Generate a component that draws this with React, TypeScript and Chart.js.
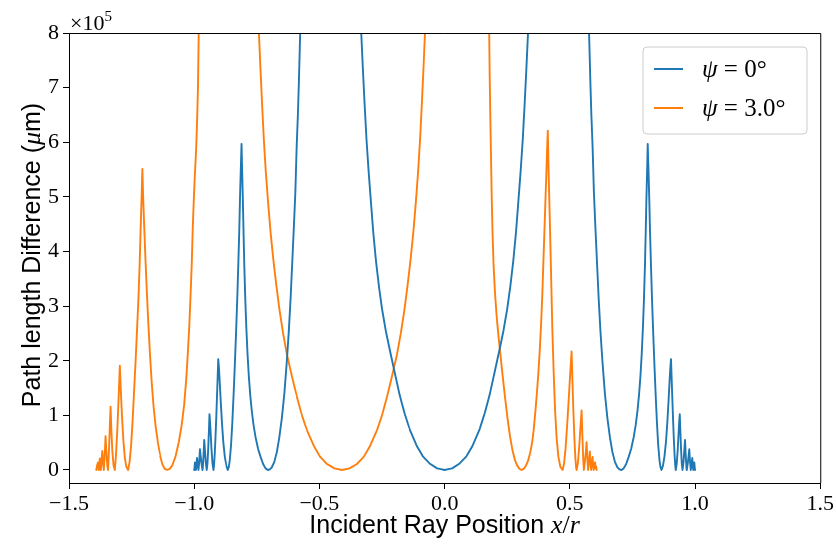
import { useEffect, useRef } from 'react';
import { Chart, registerables } from 'chart.js';

Chart.register(...registerables);

const xTickValues = [-1.5, -1.0, -0.5, 0.0, 0.5, 1.0, 1.5];
const yTickValues = [0, 1, 2, 3, 4, 5, 6, 7, 8];
const seriesLabels = ['\u03c8', '\u03c8'];
const seriesValueText = [' = 0\u00b0', ' = 3.0\u00b0'];

type Pt = [number, number | null];

// psi = 0 deg, [x/r, path difference (x1e5 um)]; null marks where the curve leaves the plot
const blueCurve: Pt[] = [
  [-1.0, 0], [-0.999, 0.03], [-0.997, 0.14], [-0.995, 0.1], [-0.993, 0], [-0.991, 0.08], [-0.989, 0.22],
  [-0.986, 0.12], [-0.983, 0], [-0.98, 0.15], [-0.977, 0.38], [-0.974, 0.25], [-0.971, 0.12], [-0.967, 0],
  [-0.966, 0.03], [-0.963, 0.25], [-0.96, 0.55], [-0.957, 0.35], [-0.954, 0.15], [-0.95, 0], [-0.947, 0.12],
  [-0.944, 0.4], [-0.941, 0.75], [-0.939, 1.02], [-0.937, 0.9], [-0.934, 0.65], [-0.931, 0.38], [-0.927, 0.12],
  [-0.923, 0], [-0.921, 0.08], [-0.918, 0.3], [-0.915, 0.6], [-0.912, 0.95], [-0.909, 1.35], [-0.906, 1.75],
  [-0.904, 2.03], [-0.901, 1.85], [-0.898, 1.6], [-0.894, 1.25], [-0.889, 0.85], [-0.884, 0.52], [-0.878, 0.25],
  [-0.872, 0.08], [-0.866, 0], [-0.862, 0.05], [-0.858, 0.18], [-0.853, 0.45], [-0.848, 0.85], [-0.843, 1.35],
  [-0.838, 1.9], [-0.833, 2.5], [-0.828, 3.15], [-0.824, 3.75], [-0.82, 4.4], [-0.817, 5.0], [-0.814, 5.5],
  [-0.811, 5.97], [-0.809, 5.55], [-0.806, 5.0], [-0.803, 4.35], [-0.8, 3.75], [-0.796, 3.12], [-0.792, 2.62],
  [-0.787, 2.12], [-0.782, 1.72], [-0.776, 1.36], [-0.77, 1.08], [-0.763, 0.82], [-0.755, 0.6], [-0.745, 0.39],
  [-0.735, 0.24], [-0.725, 0.11], [-0.715, 0.03], [-0.706, 0], [-0.698, 0.01], [-0.69, 0.05], [-0.68, 0.15],
  [-0.67, 0.33], [-0.66, 0.6], [-0.65, 0.95], [-0.64, 1.4], [-0.63, 2.0], [-0.622, 2.56], [-0.615, 3.15],
  [-0.608, 3.85], [-0.602, 4.45], [-0.596, 5.1], [-0.591, 5.9], [-0.586, 6.5], [-0.582, 7.1], [-0.578, 7.8],
  [-0.575, 8.3], [-0.572, 8.8],
  [-0.45, null],
  [-0.34, 8.8], [-0.333, 8.0], [-0.326, 7.3], [-0.319, 6.65], [-0.312, 6.05], [-0.304, 5.5], [-0.295, 4.95],
  [-0.285, 4.35], [-0.274, 3.82], [-0.262, 3.35], [-0.25, 2.95], [-0.235, 2.55], [-0.22, 2.22], [-0.2, 1.8],
  [-0.18, 1.38], [-0.16, 1.04], [-0.14, 0.75], [-0.11, 0.43], [-0.087, 0.25], [-0.06, 0.12], [-0.03, 0.03],
  [0, 0],
  [0.03, 0.03], [0.06, 0.12], [0.087, 0.25], [0.11, 0.43], [0.14, 0.75], [0.16, 1.04], [0.18, 1.38],
  [0.2, 1.8], [0.22, 2.22], [0.235, 2.55], [0.25, 2.95], [0.262, 3.35], [0.274, 3.82], [0.285, 4.35],
  [0.295, 4.95], [0.304, 5.5], [0.312, 6.05], [0.319, 6.65], [0.326, 7.3], [0.333, 8.0], [0.34, 8.8],
  [0.45, null],
  [0.572, 8.8], [0.575, 8.3], [0.578, 7.8], [0.582, 7.1], [0.586, 6.5], [0.591, 5.9], [0.596, 5.1],
  [0.602, 4.45], [0.608, 3.85], [0.615, 3.15], [0.622, 2.56], [0.63, 2.0], [0.64, 1.4], [0.65, 0.95],
  [0.66, 0.6], [0.67, 0.33], [0.68, 0.15], [0.69, 0.05], [0.698, 0.01], [0.706, 0],
  [0.715, 0.03], [0.725, 0.11], [0.735, 0.24], [0.745, 0.39], [0.755, 0.6], [0.763, 0.82], [0.77, 1.08],
  [0.776, 1.36], [0.782, 1.72], [0.787, 2.12], [0.792, 2.62], [0.796, 3.12], [0.8, 3.75], [0.803, 4.35],
  [0.806, 5.0], [0.809, 5.55], [0.811, 5.97],
  [0.814, 5.5], [0.817, 5.0], [0.82, 4.4], [0.824, 3.75], [0.828, 3.15], [0.833, 2.5], [0.838, 1.9],
  [0.843, 1.35], [0.848, 0.85], [0.853, 0.45], [0.858, 0.18], [0.862, 0.05], [0.866, 0],
  [0.872, 0.08], [0.878, 0.25], [0.884, 0.52], [0.889, 0.85], [0.894, 1.25], [0.898, 1.6], [0.901, 1.85],
  [0.904, 2.03], [0.906, 1.75], [0.909, 1.35], [0.912, 0.95], [0.915, 0.6], [0.918, 0.3], [0.921, 0.08],
  [0.923, 0], [0.927, 0.12], [0.931, 0.38], [0.934, 0.65], [0.937, 0.9], [0.939, 1.02], [0.941, 0.75],
  [0.944, 0.4], [0.947, 0.12], [0.95, 0], [0.954, 0.15], [0.957, 0.35], [0.96, 0.55], [0.963, 0.25],
  [0.966, 0.03], [0.967, 0], [0.971, 0.12], [0.974, 0.25], [0.977, 0.38], [0.98, 0.15], [0.983, 0],
  [0.986, 0.12], [0.989, 0.22], [0.991, 0.08], [0.993, 0], [0.995, 0.1], [0.997, 0.14], [0.999, 0.03],
  [1.0, 0],
];

// psi = 3.0 deg
const orangeCurve: Pt[] = [
  [-1.391, 0], [-1.388, 0.08], [-1.385, 0.14], [-1.383, 0.05], [-1.381, 0], [-1.379, 0.12], [-1.377, 0.21],
  [-1.375, 0.08], [-1.373, 0], [-1.37, 0.18], [-1.367, 0.35], [-1.364, 0.12], [-1.361, 0], [-1.357, 0.3],
  [-1.354, 0.62], [-1.351, 0.35], [-1.347, 0.08], [-1.344, 0], [-1.34, 0.4], [-1.337, 0.8], [-1.334, 1.16],
  [-1.331, 0.75], [-1.327, 0.35], [-1.322, 0.08], [-1.317, 0], [-1.312, 0.3], [-1.307, 0.75], [-1.302, 1.3],
  [-1.297, 1.91], [-1.293, 1.45], [-1.288, 0.95], [-1.283, 0.55], [-1.277, 0.22], [-1.271, 0.06], [-1.264, 0],
  [-1.258, 0.15], [-1.252, 0.45], [-1.246, 0.9], [-1.24, 1.45], [-1.234, 2.0], [-1.228, 2.6], [-1.223, 3.1],
  [-1.218, 3.75], [-1.214, 4.4], [-1.21, 5.0], [-1.207, 5.51], [-1.204, 5.0], [-1.2, 4.5], [-1.195, 3.9],
  [-1.19, 3.35], [-1.184, 2.75], [-1.177, 2.15], [-1.17, 1.62], [-1.162, 1.15], [-1.154, 0.8], [-1.145, 0.5],
  [-1.136, 0.26], [-1.127, 0.1], [-1.117, 0.02], [-1.108, 0], [-1.098, 0.02], [-1.088, 0.08], [-1.075, 0.24],
  [-1.062, 0.5], [-1.05, 0.82], [-1.04, 1.2], [-1.032, 1.65], [-1.026, 2.1], [-1.02, 2.6], [-1.015, 3.15],
  [-1.01, 3.75], [-1.006, 4.4], [-1.002, 4.9], [-0.998, 5.35], [-0.993, 5.8], [-0.989, 6.3], [-0.985, 7.0],
  [-0.982, 8.0], [-0.98, 9.0],
  [-0.86, null],
  [-0.747, 8.7], [-0.742, 8.05], [-0.736, 7.4], [-0.729, 6.7], [-0.722, 6.05], [-0.714, 5.45], [-0.705, 4.9],
  [-0.695, 4.35], [-0.684, 3.85], [-0.672, 3.38], [-0.66, 2.95], [-0.645, 2.5], [-0.63, 2.12], [-0.61, 1.72],
  [-0.59, 1.34], [-0.57, 1.0], [-0.55, 0.73], [-0.52, 0.42], [-0.497, 0.24], [-0.47, 0.11], [-0.44, 0.03],
  [-0.41, 0],
  [-0.38, 0.03], [-0.35, 0.11], [-0.323, 0.24], [-0.3, 0.42], [-0.27, 0.73], [-0.25, 1.0], [-0.23, 1.34],
  [-0.21, 1.72], [-0.19, 2.12], [-0.175, 2.5], [-0.16, 2.95], [-0.148, 3.38], [-0.136, 3.85], [-0.125, 4.35],
  [-0.115, 4.9], [-0.106, 5.45], [-0.098, 6.05], [-0.091, 6.7], [-0.084, 7.4], [-0.078, 8.05], [-0.073, 8.7],
  [0.05, null],
  [0.176, 9.0], [0.178, 8.0], [0.18, 7.2], [0.182, 6.6], [0.185, 5.8], [0.188, 5.0], [0.191, 4.4],
  [0.195, 3.8], [0.201, 3.25], [0.208, 2.8], [0.215, 2.45], [0.222, 2.15], [0.231, 1.75], [0.241, 1.34],
  [0.251, 0.95], [0.261, 0.62], [0.271, 0.36], [0.281, 0.18], [0.29, 0.08], [0.299, 0.02], [0.308, 0],
  [0.318, 0.03], [0.326, 0.09], [0.334, 0.18], [0.342, 0.32], [0.35, 0.52], [0.356, 0.75], [0.362, 1.05],
  [0.368, 1.38], [0.374, 1.75], [0.38, 2.2], [0.385, 2.65], [0.39, 3.2], [0.394, 3.75], [0.398, 4.3],
  [0.402, 4.85], [0.406, 5.4], [0.409, 5.85], [0.412, 6.21],
  [0.415, 5.5], [0.418, 4.95], [0.421, 4.4], [0.425, 3.6], [0.43, 2.6], [0.435, 1.85], [0.441, 1.1],
  [0.447, 0.6], [0.454, 0.25], [0.462, 0.06], [0.471, 0],
  [0.477, 0.12], [0.483, 0.4], [0.489, 0.8], [0.495, 1.25], [0.5, 1.65], [0.504, 1.95], [0.507, 2.17],
  [0.51, 1.7], [0.514, 1.1], [0.518, 0.6], [0.522, 0.22], [0.525, 0.05], [0.527, 0],
  [0.532, 0.12], [0.537, 0.4], [0.542, 0.75], [0.547, 1.09], [0.55, 0.65], [0.553, 0.25], [0.556, 0],
  [0.56, 0.15], [0.564, 0.33], [0.567, 0.51], [0.57, 0.2], [0.573, 0], [0.577, 0.18], [0.58, 0.34],
  [0.583, 0.1], [0.585, 0], [0.588, 0.13], [0.591, 0.24], [0.593, 0.08], [0.595, 0], [0.598, 0.1],
  [0.601, 0.14], [0.603, 0.03], [0.605, 0.06], [0.607, 0],
];

const BLUE = '#1f77b4';
const ORANGE = '#ff7f0e';
const SERIF = '"Liberation Serif", "DejaVu Serif", serif';
const SANS = '"Liberation Sans", "DejaVu Sans", sans-serif';

type Run = { text: string; font: string; dy?: number };

function runsWidth(ctx: CanvasRenderingContext2D, runs: Run[]) {
  let w = 0;
  for (const r of runs) {
    ctx.font = r.font;
    w += ctx.measureText(r.text).width;
  }
  return w;
}

function drawRuns(ctx: CanvasRenderingContext2D, runs: Run[], x: number, y: number) {
  let cx = x;
  for (const r of runs) {
    ctx.font = r.font;
    ctx.fillText(r.text, cx, y + (r.dy || 0));
    cx += ctx.measureText(r.text).width;
  }
}

const decorPlugin = {
  id: 'decor',
  afterDraw(chart: any) {
    const ctx: CanvasRenderingContext2D = chart.ctx;
    const a = chart.chartArea;
    ctx.save();
    ctx.strokeStyle = '#000';
    ctx.lineWidth = 1;
    ctx.beginPath();
    ctx.moveTo(a.left, a.top + 0.5);
    ctx.lineTo(a.right + 0.5, a.top + 0.5);
    ctx.lineTo(a.right + 0.5, a.bottom);
    ctx.stroke();

    ctx.fillStyle = '#000';
    ctx.textBaseline = 'alphabetic';
    ctx.textAlign = 'left';

    drawRuns(ctx, [
      { text: '\u00d710', font: `22px ${SERIF}` },
      { text: '5', font: `15px ${SERIF}`, dy: -9 },
    ], 70, 30);

    const xRuns: Run[] = [
      { text: 'Incident Ray Position ', font: `25px ${SANS}` },
      { text: 'x', font: `italic 26px ${SERIF}` },
      { text: '/', font: `26px ${SERIF}` },
      { text: 'r', font: `italic 26px ${SERIF}` },
    ];
    const xw = runsWidth(ctx, xRuns);
    drawRuns(ctx, xRuns, (a.left + a.right) / 2 - xw / 2, 533);

    const yRuns: Run[] = [
      { text: 'Path length Difference (', font: `25px ${SANS}` },
      { text: '\u03bc', font: `italic 26px ${SERIF}` },
      { text: 'm)', font: `25px ${SANS}` },
    ];
    const yw = runsWidth(ctx, yRuns);
    ctx.save();
    ctx.translate(40, (a.top + a.bottom) / 2 - 3);
    ctx.rotate(-Math.PI / 2);
    drawRuns(ctx, yRuns, -yw / 2, 0);
    ctx.restore();

    const lx = 643, ly = 47, lw = 164, lh = 87, rad = 4;
    ctx.beginPath();
    ctx.moveTo(lx + rad, ly);
    ctx.lineTo(lx + lw - rad, ly);
    ctx.quadraticCurveTo(lx + lw, ly, lx + lw, ly + rad);
    ctx.lineTo(lx + lw, ly + lh - rad);
    ctx.quadraticCurveTo(lx + lw, ly + lh, lx + lw - rad, ly + lh);
    ctx.lineTo(lx + rad, ly + lh);
    ctx.quadraticCurveTo(lx, ly + lh, lx, ly + lh - rad);
    ctx.lineTo(lx, ly + rad);
    ctx.quadraticCurveTo(lx, ly, lx + rad, ly);
    ctx.closePath();
    ctx.fillStyle = 'rgba(255,255,255,0.8)';
    ctx.fill();
    ctx.strokeStyle = '#cccccc';
    ctx.lineWidth = 1;
    ctx.stroke();

    const colors = [BLUE, ORANGE];
    const rows = [69, 108];
    for (let i = 0; i < 2; i++) {
      ctx.strokeStyle = colors[i];
      ctx.lineWidth = 2;
      ctx.beginPath();
      ctx.moveTo(654, rows[i]);
      ctx.lineTo(683, rows[i]);
      ctx.stroke();
      ctx.fillStyle = '#000';
      drawRuns(ctx, [
        { text: seriesLabels[i], font: `italic 25px ${SERIF}` },
        { text: seriesValueText[i], font: `25px ${SERIF}` },
      ], 702, rows[i] + 8);
    }
    ctx.restore();
  },
};

export default function App() {
  const ref = useRef<HTMLCanvasElement | null>(null);
  useEffect(() => {
    document.body.style.margin = '0';
    const canvas = ref.current;
    if (!canvas) return;
    const common = {
      borderWidth: 1.9,
      pointRadius: 0,
      // tiny tension disables Chart.js's per-pixel "fast path", which mangles steep peaks
      tension: 0.000001,
      spanGaps: false,
      fill: false,
      borderJoinStyle: 'round' as const,
      borderCapStyle: 'round' as const,
    };
    const chart = new Chart(canvas, {
      type: 'line',
      data: {
        datasets: [
          { label: 'psi=0', data: blueCurve.map(([x, y]) => ({ x, y })) as any, borderColor: BLUE, ...common },
          { label: 'psi=3', data: orangeCurve.map(([x, y]) => ({ x, y })) as any, borderColor: ORANGE, ...common },
        ],
      },
      options: {
        responsive: false,
        animation: false,
        events: [],
        layout: { padding: { top: 33, right: 15, left: 0, bottom: 0 } },
        plugins: { legend: { display: false }, tooltip: { enabled: false }, title: { display: false } },
        scales: {
          x: {
            type: 'linear',
            min: -1.5,
            max: 1.5,
            afterBuildTicks: (s: any) => { s.ticks = xTickValues.map((v) => ({ value: v })); },
            afterFit: (s: any) => { s.height = 62; },
            ticks: {
              color: '#000',
              font: { family: SERIF, size: 22 },
              padding: 2,
              maxRotation: 0,
              autoSkip: false,
              callback: (v: any) => Number(v).toFixed(1).replace('-', '\u2212'),
            },
            grid: { display: true, drawOnChartArea: false, drawTicks: true, tickLength: 6, color: '#000' },
            border: { display: true, color: '#000', width: 1 },
          },
          y: {
            type: 'linear',
            min: -0.238,
            max: 8,
            afterBuildTicks: (s: any) => { s.ticks = yTickValues.map((v) => ({ value: v })); },
            afterFit: (s: any) => { s.width = 69; },
            ticks: {
              color: '#000',
              font: { family: SERIF, size: 22 },
              padding: 4,
              autoSkip: false,
              callback: (v: any) => String(v),
            },
            grid: { display: true, drawOnChartArea: false, drawTicks: true, tickLength: 6, color: '#000' },
            border: { display: true, color: '#000', width: 1 },
          },
        },
      },
      plugins: [decorPlugin],
    });
    return () => chart.destroy();
  }, []);
  return <canvas ref={ref} width={836} height={545} style={{ display: 'block', width: 836, height: 545 }} />;
}
